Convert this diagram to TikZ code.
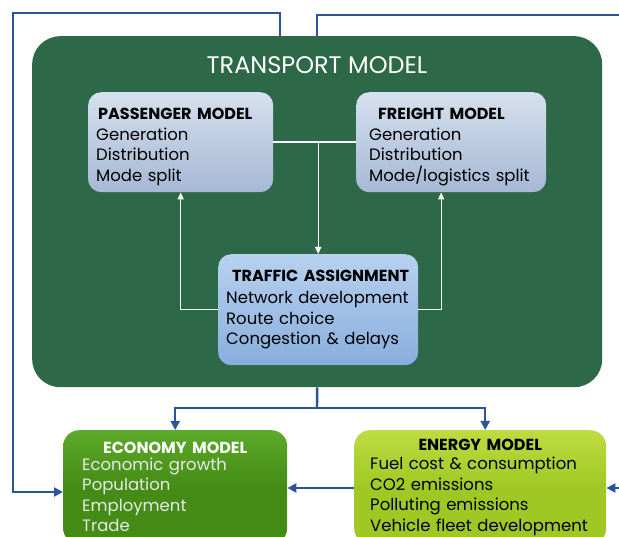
\documentclass[tikz,border=0pt]{standalone}
\usepackage{fontspec}
\setmainfont{Poppins}
\usetikzlibrary{arrows.meta}

\definecolor{transportGreen}{RGB}{45,104,73}
\definecolor{passengerTop}{RGB}{214,224,238}
\definecolor{passengerBottom}{RGB}{165,184,212}
\definecolor{trafficTop}{RGB}{184,209,239}
\definecolor{trafficBottom}{RGB}{136,174,221}
\definecolor{economyTop}{RGB}{92,170,42}
\definecolor{economyBottom}{RGB}{68,140,22}
\definecolor{energyTop}{RGB}{190,220,66}
\definecolor{energyBottom}{RGB}{160,200,36}
\definecolor{linkBlue}{RGB}{43,85,151}
\definecolor{economyText}{RGB}{232,232,232}

\begin{document}
\begin{tikzpicture}
	[x=1pt, y=-1pt,
		containsText/.style  ={font=\fontsize{16.5}{20.5}\selectfont
									},
		model/.style		={rectangle
									, containsText
									, rounded corners=13pt
									, align=left
									, anchor=north west
									, inner xsep=8pt
									, inner ysep=0pt
									},
		transportbox/.style	={rectangle
									, rounded corners=28pt
									, fill=transportGreen
									, anchor=north west
									},
		subbox/.style		={model
									, top color=passengerTop
									, bottom color=passengerBottom
									, middle color=passengerTop!50!passengerBottom
									},
		trafficbox/.style	={model
									, top color=trafficTop
									, bottom color=trafficBottom
									},
		economybox/.style	={model
									, rounded corners=16pt
									, top color=economyTop
									, bottom color=economyBottom
									, middle color=economyBottom
									, text=economyText
									},
		energybox/.style	={model
									, rounded corners=16pt
									, top color=energyTop
									, bottom color=energyBottom
									, middle color=energyBottom
									},
		whiteline/.style	={draw=white
									, line width=1.4pt
									, -{Triangle[length=7pt,width=6pt]}
									},
		blueline/.style		={draw=linkBlue
									, line width=2.4pt
									, -{Triangle[length=9pt,width=9pt]}
									}
	]
\newcommand{\modeltitle}[1]{{\fontsize{16}{20.5}\selectfont\bfseries #1}}

\useasboundingbox (0,0) rectangle (619,537);
\clip (0,0) rectangle (619,537);

% transport model and its three parts
\node [transportbox, minimum width=570pt, minimum height=351pt] (transport) at (32,36) {};
\node [containsText, text=white, font=\fontsize{24}{26}\selectfont] (transport title) at (317,65) {TRANSPORT MODEL};

\node [subbox, text width=169pt, minimum height=100pt] (passenger) at (88,92)
	{\rule{0pt}{21pt}\hspace*{2pt}\modeltitle{PASSENGER MODEL}\\Generation\\Distribution\\Mode split};
\node [subbox, inner xsep=13pt, text width=164pt, minimum height=100pt] (freight) at (356,92)
	{\rule{0pt}{21pt}\hspace*{9pt}\modeltitle{FREIGHT MODEL}\\Generation\\Distribution\\\mbox{Mode/logistics split}};
\node [trafficbox, text width=184pt, minimum height=111pt] (traffic) at (218,254)
	{\hspace*{6pt}\modeltitle{TRAFFIC ASSIGNMENT}\\[2pt]Network development\\Route choice\\Congestion \& delays};

% the two other models
\node [economybox, inner xsep=19pt, text width=186pt, minimum height=114pt] (economy) at (63,430)
	{\makebox[\linewidth]{\color{white}\modeltitle{ECONOMY MODEL}}\\[-4pt]Economic growth\\Population\\Employment\\Trade};
\node [energybox, inner xsep=16pt, text width=220pt, minimum height=114pt] (energy) at (354,430)
	{\makebox[\linewidth]{\modeltitle{ENERGY MODEL}}\\[-1pt]Fuel cost \& consumption\\CO2 emissions\\Polluting emissions\\Vehicle fleet development};

\coordinate (split) at (passenger.east -| traffic.north);
\coordinate (fork) at (317,408);
\coordinate (right edge) at (619,488);

\begin{scope}[every path/.style=whiteline]
	\path	[-]	(passenger.east)	-- (freight.west);
	\path			(split)				-- (traffic.north);
	\path			(traffic.west)		-| (passenger.south);
	\path			(traffic.east)		-| ([xshift=-10pt]freight.south);
\end{scope}

\begin{scope}[every path/.style=blueline]
	\path	[-]	(transport.south)	-- (fork);
	\path			(fork)				-| (economy.north);
	\path			(fork)				-| ([xshift=5pt]energy.north);
	\path			(energy.west |- right edge)		-- (economy.east |- right edge);
	\path			(right edge)		-- (right edge -| energy.east);
	\path			([xshift=-37pt]transport.north) |- (13,13) |- (economy.west |- 0,492);
	\path	[-]	(transport.north)	|- (630,15);
\end{scope}
\end{tikzpicture}
\end{document}
